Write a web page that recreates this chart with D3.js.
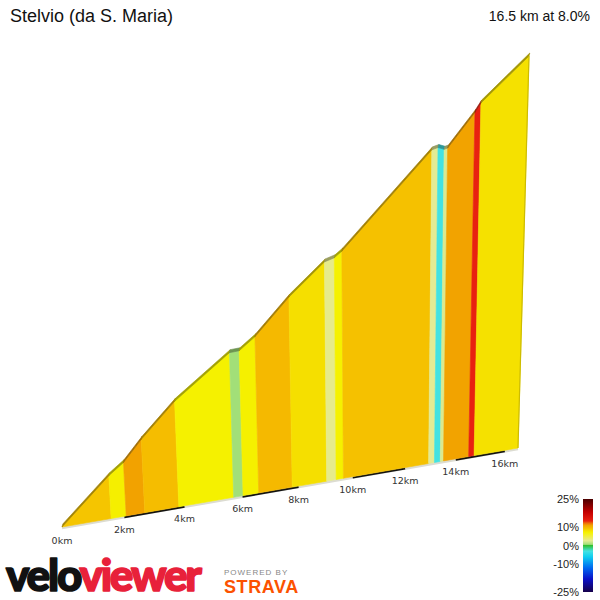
<!DOCTYPE html>
<html>
<head>
<style>
    body { margin: 0; background: #fff; }
    text { font-family: "Liberation Sans", Arial, sans-serif; }
</style>
</head>
<body>
<svg id="chart" width="600" height="600"></svg>
<script src="https://d3js.org/d3.v7.min.js"></script>
<script>
    const title = "Stelvio (da S. Maria)";
    const summary = "16.5 km at 8.0%";

    // profile points: distance (km) and elevation (m) where the gradient colour changes
    const distancesKm = [0, 1.57, 2.06, 2.67, 3.81, 5.69, 6.02, 6.57, 7.77, 9.03, 9.38, 9.65,
        12.92, 13.15, 13.38, 13.51, 14.52, 14.74, 16.55];
    const elevationsM = [1400, 1541, 1576, 1642, 1749, 1882, 1884, 1923, 2038, 2139, 2149, 2168,
        2469, 2475, 2468, 2471, 2580, 2609, 2752];

    const tickKm = [0, 2, 4, 6, 8, 10, 12, 14, 16];
    const darkTickPairs = [[2, 4], [6, 8], [10, 12], [14, 16]];
    const legendTicks = [25, 10, 0, -10, -25];

    // gradient (%) -> colour
    const gradeStops = [-25, -18, -12, -6, -3, 0, 0.6, 2.6, 4.5, 7, 8, 9, 9.6, 10.8, 12, 13.2, 18, 25];
    const gradeColors = ["#16004a", "#0a10c8", "#0068f0", "#10cff0", "#44e2e2", "#30c030", "#a2df78",
        "#e4eb94", "#f0ee50", "#f5f200", "#f5df00", "#f5c500", "#f5b900", "#f2a300", "#ee6e08",
        "#e82010", "#c40000", "#4a0000"];

    let svg = d3.select("#chart");
    let color = d3.scaleLinear().domain(gradeStops).range(gradeColors).clamp(true);

    // perspective: unit square (distance, height) onto the wall's four screen corners
    let u = d3.scaleLinear().domain([0, d3.max(distancesKm)]).range([0, 1]);
    let v = d3.scaleLinear().domain(d3.extent(elevationsM)).range([0, 1]);
    const corners = [[62, 527], [518, 448], [529, 56], [33, 77]];

    function squareToQuad(q) {
        let [[x0, y0], [x1, y1], [x2, y2], [x3, y3]] = q;
        let dx1 = x1 - x2, dx2 = x3 - x2, dx3 = x0 - x1 + x2 - x3;
        let dy1 = y1 - y2, dy2 = y3 - y2, dy3 = y0 - y1 + y2 - y3;
        let den = dx1 * dy2 - dx2 * dy1;
        let g = (dx3 * dy2 - dx2 * dy3) / den;
        let h = (dx1 * dy3 - dx3 * dy1) / den;
        let a = x1 - x0 + g * x1, b = x3 - x0 + h * x3;
        let d = y1 - y0 + g * y1, e = y3 - y0 + h * y3;
        return (s, t) => {
            let w = g * s + h * t + 1;
            return [(a * s + b * t + x0) / w, (d * s + e * t + y0) / w];
        };
    }
    let project = squareToQuad(corners);
    let pt = (km, m) => project(u(km), v(m));
    let base = (km) => pt(km, elevationsM[0]);

    let segments = d3.pairs(d3.range(distancesKm.length)).map(([i, j]) => ({
        d0: distancesKm[i], d1: distancesKm[j],
        e0: elevationsM[i], e1: elevationsM[j],
        grade: (elevationsM[j] - elevationsM[i]) / (distancesKm[j] - distancesKm[i]) / 10
    }));

    // ground line with alternating 2 km marks
    let ground = svg.append("g");
    ground.append("line")
        .attr("x1", base(0)[0]).attr("y1", base(0)[1] + 1)
        .attr("x2", base(d3.max(distancesKm))[0]).attr("y2", base(d3.max(distancesKm))[1] + 1)
        .attr("stroke", "#dcdcd2")
        .attr("stroke-width", 2.5);
    ground.selectAll(".mark")
        .data(darkTickPairs)
        .enter()
        .append("line")
            .attr("x1", (d) => base(d[0])[0]).attr("y1", (d) => base(d[0])[1] + 1)
            .attr("x2", (d) => base(d[1])[0]).attr("y2", (d) => base(d[1])[1] + 1)
            .attr("stroke", "#111")
            .attr("stroke-width", 2);

    let toPoints = (pts) => pts.map((p) => p.join(",")).join(" ");

    // wall faces
    svg.append("g")
        .selectAll("polygon")
        .data(segments)
        .enter()
        .append("polygon")
            .attr("points", (s) => toPoints([base(s.d0), base(s.d1), pt(s.d1, s.e1), pt(s.d0, s.e0)]))
            .attr("fill", (s) => color(s.grade))
            .attr("stroke", (s) => color(s.grade))
            .attr("stroke-width", 0.6);

    // top face of the wall
    const off = [0.8, -3];
    svg.append("g")
        .selectAll("polygon")
        .data(segments)
        .enter()
        .append("polygon")
            .attr("points", (s) => {
                let a = pt(s.d0, s.e0), b = pt(s.d1, s.e1);
                return toPoints([a, b, [b[0] + off[0], b[1] + off[1]], [a[0] + off[0], a[1] + off[1]]]);
            })
            .attr("fill", (s) => d3.color(color(s.grade)).darker(1.1))
            .attr("stroke", (s) => d3.color(color(s.grade)).darker(1.3))
            .attr("stroke-width", 0.6);

    // end face edge
    let last = segments[segments.length - 1];
    svg.append("line")
        .attr("x1", base(last.d1)[0]).attr("y1", base(last.d1)[1])
        .attr("x2", pt(last.d1, last.e1)[0]).attr("y2", pt(last.d1, last.e1)[1])
        .attr("stroke", d3.color(color(last.grade)).darker(0.5))
        .attr("stroke-width", 1.2);

    // distance labels
    svg.append("g")
        .selectAll("text")
        .data(tickKm)
        .enter()
        .append("text")
            .attr("x", (d) => base(d)[0])
            .attr("y", (d) => base(d)[1] + 16.5)
            .attr("text-anchor", "middle")
            .style("font-family", "'DejaVu Sans', sans-serif")
            .style("font-size", "9.5px")
            .attr("fill", "#333")
            .text((d) => d + "km");

    // titles
    svg.append("text")
        .attr("x", 10).attr("y", 22)
        .style("font-size", "18px")
        .attr("fill", "#111")
        .text(title);
    svg.append("text")
        .attr("x", 590).attr("y", 21)
        .attr("text-anchor", "end")
        .style("font-size", "14px")
        .attr("fill", "#111")
        .text(summary);

    // gradient legend
    let legendY = d3.scaleLinear().domain([-25, 25]).range([592, 499]);
    let grad = svg.append("defs").append("linearGradient")
        .attr("id", "gradeBar")
        .attr("x1", 0).attr("y1", 1).attr("x2", 0).attr("y2", 0);
    grad.selectAll("stop")
        .data(gradeStops)
        .enter()
        .append("stop")
            .attr("offset", (d) => (d + 25) / 50)
            .attr("stop-color", (d) => color(d));
    svg.append("rect")
        .attr("x", 583).attr("y", legendY(25))
        .attr("width", 10).attr("height", legendY(-25) - legendY(25))
        .attr("fill", "url(#gradeBar)");
    svg.append("g")
        .selectAll("text")
        .data(legendTicks)
        .enter()
        .append("text")
            .attr("x", 579)
            .attr("y", (d) => legendY(d) + 4)
            .attr("text-anchor", "end")
            .style("font-size", "11px")
            .attr("fill", "#222")
            .text((d) => d + "%");

    // logos
    let logo = svg.append("text")
        .attr("x", 6).attr("y", 591)
        .style("font-family", "Lato, sans-serif")
        .style("font-weight", 900)
        .style("font-size", "44px")
        .style("letter-spacing", "-2.2px")
        .attr("stroke-width", 1.6)
        .attr("stroke-linejoin", "round");
    logo.append("tspan").attr("fill", "#111").attr("stroke", "#111").text("velo");
    logo.append("tspan").attr("fill", "#e8213a").attr("stroke", "#e8213a").text("viewer");
    svg.append("text")
        .attr("x", 224).attr("y", 575)
        .style("font-size", "8px")
        .style("letter-spacing", "1px")
        .attr("fill", "#888")
        .text("POWERED BY");
    svg.append("text")
        .attr("x", 224).attr("y", 593)
        .style("font-size", "18px")
        .style("font-weight", "bold")
        .style("letter-spacing", "0.6px")
        .attr("fill", "#fc5200")
        .text("STRAVA");
</script>
</body>
</html>
